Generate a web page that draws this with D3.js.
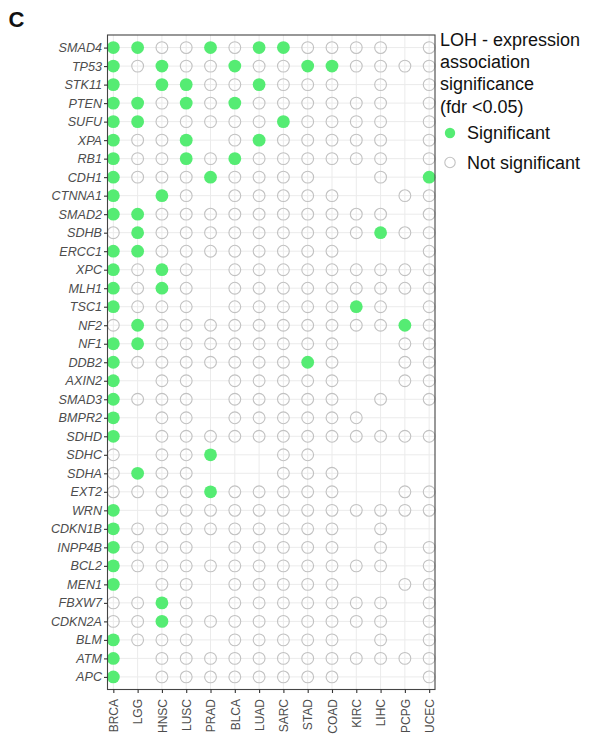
<!DOCTYPE html>
<html>
<head>
<meta charset="utf-8">
<script src="https://cdn.jsdelivr.net/npm/d3@7"></script>
<style>
  html, body { margin: 0; padding: 0; background: #fff; }
  svg { display: block; font-family: "Liberation Sans", Arial, Helvetica, sans-serif; }
</style>
</head>
<body>
<svg id="chart" width="605" height="740"></svg>
<script>
// Genes (rows, top to bottom)
const genes = ["SMAD4","TP53","STK11","PTEN","SUFU","XPA","RB1","CDH1","CTNNA1","SMAD2",
  "SDHB","ERCC1","XPC","MLH1","TSC1","NF2","NF1","DDB2","AXIN2","SMAD3","BMPR2","SDHD",
  "SDHC","SDHA","EXT2","WRN","CDKN1B","INPP4B","BCL2","MEN1","FBXW7","CDKN2A","BLM","ATM","APC"];

// Cancer types (columns, left to right)
const cancers = ["BRCA","LGG","HNSC","LUSC","PRAD","BLCA","LUAD","SARC","STAD","COAD","KIRC","LIHC","PCPG","UCEC"];

// Association status per gene, one character per cancer type:
// S = significant, N = not significant, . = not tested
const status = [
  "SSNNSNSSNNNN.N", // SMAD4
  "SNSNNSNNSSNNNN", // TP53
  "S.SSNNSNNN.N.N", // STK11
  "SSNSNSNNNNNN.N", // PTEN
  "SSNNNNNSNNNN.N", // SUFU
  "SNNS.NSNNNNN.N", // XPA
  "SNNSNSNNNNNN.N", // RB1
  "SNNNSNNNN..N.S", // CDH1
  "S.SN.NNNNN..NN", // CTNNA1
  "SSNNNNNNNNNN.N", // SMAD2
  "NSNNNNNNNNNSNN", // SDHB
  "SSNNNNNNNN...N", // ERCC1
  "SNSN.NNNNNNNNN", // XPC
  "SNSN.NNNNNNNNN", // MLH1
  "SNNN.NNNNNSN.N", // TSC1
  "NSNNNNNNNNNNSN", // NF2
  "SSNNNNNNNN..NN", // NF1
  "SNNNNNNNSN..NN", // DDB2
  "S.NN.NNNNN..NN", // AXIN2
  "SNNN.NNNNN.N.N", // SMAD3
  "S.NN.NNNNNN...", // BMPR2
  "S.NNNNNNNNNNNN", // SDHD
  "N.NNS..NN.....", // SDHC
  "NSNN...NNN....", // SDHA
  "NNNNSNNNNN..NN", // EXT2
  "S.NNNNNNNNNNNN", // WRN
  "SNNNNNNNNN.N..", // CDKN1B
  "SNNN.NNNNN.N.N", // INPP4B
  "SNNNNNNNNNNN.N", // BCL2
  "S.NN.NNNNN..NN", // MEN1
  "NNSN.NNNNNNN.N", // FBXW7
  "NNSNNNNNNNNN.N", // CDKN2A
  "SNNN.NNNNN.N.N", // BLM
  "S.NNNNNNNNNNNN", // ATM
  "S.NNNNNNNN...N"  // APC
];

const legendTitle = ["LOH - expression", "association", "significance", "(fdr <0.05)"];
const legendItems = [
  { key: "S", label: "Significant" },
  { key: "N", label: "Not significant" }
];

const GREEN = "#55ec73";
const HOLLOW = "#c2c2c2";

const cells = [];
genes.forEach((g, i) => {
  cancers.forEach((c, j) => {
    const s = status[i][j];
    if (s !== ".") cells.push({ gene: g, cancer: c, sig: s === "S" });
  });
});

const svg = d3.select("#chart");

const panel = { left: 107.5, right: 435, top: 35, bottom: 689.5 };

const x = d3.scalePoint().domain(cancers)
  .range([panel.left, panel.right]).padding(0.24);
const y = d3.scalePoint().domain(genes)
  .range([panel.top, panel.bottom]).padding(0.68);

// Panel background
svg.append("rect")
  .attr("x", panel.left).attr("y", panel.top)
  .attr("width", panel.right - panel.left).attr("height", panel.bottom - panel.top)
  .attr("fill", "#fff");

// Major grid lines
const grid = svg.append("g").attr("stroke", "#ebebeb").attr("stroke-width", 1);
grid.selectAll("line.v").data(cancers).join("line")
  .attr("class", "v")
  .attr("x1", d => x(d)).attr("x2", d => x(d))
  .attr("y1", panel.top).attr("y2", panel.bottom);
grid.selectAll("line.h").data(genes).join("line")
  .attr("class", "h")
  .attr("x1", panel.left).attr("x2", panel.right)
  .attr("y1", d => y(d)).attr("y2", d => y(d));

// Points
svg.append("g").selectAll("circle").data(cells).join("circle")
  .attr("cx", d => x(d.cancer))
  .attr("cy", d => y(d.gene))
  .attr("r", d => d.sig ? 6.4 : 5.9)
  .attr("fill", d => d.sig ? GREEN : "none")
  .attr("stroke", d => d.sig ? "none" : HOLLOW)
  .attr("stroke-width", 1.1);

// Panel border
svg.append("rect")
  .attr("x", panel.left).attr("y", panel.top)
  .attr("width", panel.right - panel.left).attr("height", panel.bottom - panel.top)
  .attr("fill", "none").attr("stroke", "#444").attr("stroke-width", 1.1);

// Y axis
const yAxis = svg.append("g")
  .attr("transform", `translate(${panel.left},0)`)
  .call(d3.axisLeft(y).tickSize(3.5).tickPadding(2));
yAxis.select(".domain").remove();
yAxis.selectAll(".tick line").attr("stroke", "#333").attr("stroke-width", 1.1);
yAxis.selectAll(".tick text")
  .attr("fill", "#4d4d4d")
  .style("font-size", "12.6px")
  .style("font-style", "italic")
  .style("font-family", "'Liberation Sans', Arial, sans-serif");

// X axis with vertical labels
const xAxis = svg.append("g")
  .attr("transform", `translate(0,${panel.bottom})`)
  .call(d3.axisBottom(x).tickSize(3.5).tickPadding(2));
xAxis.select(".domain").remove();
xAxis.selectAll(".tick line").attr("stroke", "#333").attr("stroke-width", 1.1);
xAxis.selectAll(".tick text")
  .attr("fill", "#4d4d4d")
  .style("font-size", "12px")
  .style("font-family", "'Liberation Sans', Arial, sans-serif")
  .attr("transform", "rotate(-90)")
  .attr("text-anchor", "end")
  .attr("x", -9.5)
  .attr("y", 0)
  .attr("dy", "0.35em");

// Panel tag
svg.append("text")
  .attr("x", 8.5).attr("y", 27)
  .attr("font-size", "22px").attr("font-weight", "bold")
  .attr("fill", "#111")
  .text("C");

// Legend
const legend = svg.append("g").attr("transform", "translate(440,0)");
legend.selectAll("text.title").data(legendTitle).join("text")
  .attr("class", "title")
  .attr("x", 0).attr("y", (d, i) => 45.5 + i * 22.4)
  .attr("font-size", "18px").attr("fill", "#111")
  .text(d => d);

const li = legend.selectAll("g.item").data(legendItems).join("g")
  .attr("class", "item")
  .attr("transform", (d, i) => `translate(0,${133 + i * 29.5})`);
li.append("circle")
  .attr("cx", 10).attr("cy", 0)
  .attr("r", 5.2)
  .attr("fill", d => d.key === "S" ? GREEN : "none")
  .attr("stroke", d => d.key === "S" ? "none" : HOLLOW)
  .attr("stroke-width", 1.1);
li.append("text")
  .attr("x", 27).attr("y", 0).attr("dy", "0.35em")
  .attr("font-size", "18px").attr("fill", "#111")
  .text(d => d.label);
</script>
</body>
</html>
